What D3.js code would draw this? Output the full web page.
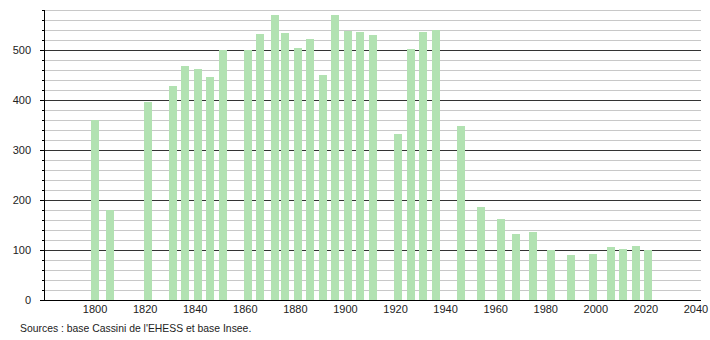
<!DOCTYPE html>
<html>
<head>
<meta charset="utf-8">
<script src="https://cdn.jsdelivr.net/npm/d3@7"></script>
<style>
  body { margin: 0; background: #fff; }
  text { font-family: "Liberation Sans", Arial, sans-serif; }
</style>
</head>
<body>
<div id="chart"></div>
<script>
// census years and population
var years = [1800, 1806, 1821, 1831, 1836, 1841, 1846, 1851, 1861, 1866, 1872, 1876,
  1881, 1886, 1891, 1896, 1901, 1906, 1911, 1921, 1926, 1931, 1936, 1946, 1954,
  1962, 1968, 1975, 1982, 1990, 1999, 2006, 2011, 2016, 2021];
var population = [360, 180, 396, 428, 468, 462, 446, 500, 500, 532, 570, 534,
  504, 522, 450, 570, 538, 536, 530, 332, 502, 536, 540, 348, 186,
  162, 132, 136, 100, 90, 92, 106, 102, 108, 100];
var xTicks = [1800, 1820, 1840, 1860, 1880, 1900, 1920, 1940, 1960, 1980, 2000, 2020, 2040];
var yTicks = [0, 100, 200, 300, 400, 500];
var sourceText = "Sources : base Cassini de l'EHESS et base Insee.";

function Chart() {
  var w = 710;
  var h = 340;
  var left = 44, right = 701, top = 10, bottom = 300;
  var barWidth = 8;

  var svg = d3.select("#chart")
    .append("svg")
    .attr("width", w)
    .attr("height", h);

  var x = d3.scaleLinear().domain([1780, 2042]).range([left + 1, right]);
  var y = d3.scaleLinear().domain([0, 580]).range([bottom, top]);

  // minor grid every 20, major every 100
  var minor = d3.range(20, 581, 20).filter(function (v) { return v % 100 !== 0; });
  svg.selectAll("line.minor")
    .data(minor)
    .enter()
    .append("line")
    .attr("x1", left)
    .attr("x2", right)
    .attr("y1", function (d) { return y(d) + 0.5; })
    .attr("y2", function (d) { return y(d) + 0.5; })
    .attr("stroke", "#c8c8c8")
    .attr("stroke-width", 1);

  svg.selectAll("line.major")
    .data(yTicks.slice(1))
    .enter()
    .append("line")
    .attr("x1", left)
    .attr("x2", right)
    .attr("y1", function (d) { return y(d) + 0.5; })
    .attr("y2", function (d) { return y(d) + 0.5; })
    .attr("stroke", "#333")
    .attr("stroke-width", 1);

  // bars
  svg.selectAll("rect")
    .data(years)
    .enter()
    .append("rect")
    .attr("x", function (d) { return Math.round(x(d) - barWidth / 2); })
    .attr("y", function (d, i) { return y(population[i]); })
    .attr("width", barWidth)
    .attr("height", function (d, i) { return bottom - y(population[i]); })
    .attr("fill", "#b2e2b2");

  // y minor ticks
  svg.selectAll("line.ytick")
    .data(d3.range(0, 581, 20))
    .enter()
    .append("line")
    .attr("x1", function (d) { return d % 100 === 0 ? left - 4 : left - 2; })
    .attr("x2", left)
    .attr("y1", function (d) { return y(d) + 0.5; })
    .attr("y2", function (d) { return y(d) + 0.5; })
    .attr("stroke", "#000");

  // axes lines
  svg.append("line")
    .attr("x1", left + 0.5).attr("x2", left + 0.5)
    .attr("y1", top).attr("y2", bottom + 1)
    .attr("stroke", "#000");
  svg.append("line")
    .attr("x1", left).attr("x2", right)
    .attr("y1", bottom + 0.5).attr("y2", bottom + 0.5)
    .attr("stroke", "#000");

  // y labels
  svg.selectAll("text.ylab")
    .data(yTicks)
    .enter()
    .append("text")
    .attr("x", 31)
    .attr("y", function (d) { return y(d) + 4; })
    .attr("text-anchor", "end")
    .attr("font-size", 11)
    .attr("fill", "#222")
    .text(function (d) { return d; });

  // x labels
  svg.selectAll("text.xlab")
    .data(xTicks)
    .enter()
    .append("text")
    .attr("x", function (d) { return x(d); })
    .attr("y", 313)
    .attr("text-anchor", "middle")
    .attr("font-size", 11)
    .attr("fill", "#222")
    .text(function (d) { return d; });

  svg.append("text")
    .attr("x", 20)
    .attr("y", 332)
    .attr("font-size", 10.4)
    .attr("fill", "#222")
    .text(sourceText);
}
window.onload = Chart;
</script>
</body>
</html>
